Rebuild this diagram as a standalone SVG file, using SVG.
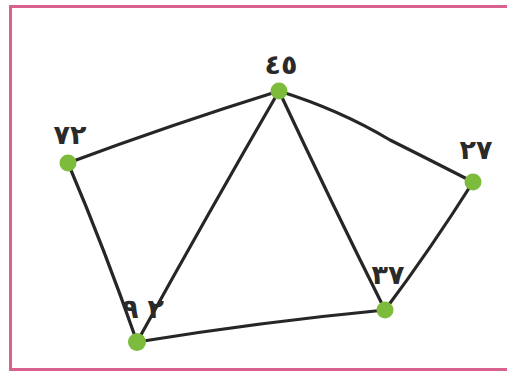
<svg xmlns="http://www.w3.org/2000/svg" width="507" height="375" viewBox="0 0 507 375">
<style>
.edge{fill:none;stroke:#262626;stroke-width:3.2;stroke-linecap:round}
.node{fill:#7dbb3c}
.lbl{font-family:"DejaVu Sans",sans-serif;font-size:27px;font-weight:bold;fill:#2a2a2a;text-anchor:middle}
</style>
<rect x="0" y="0" width="507" height="375" fill="#ffffff"/>
<rect x="10.5" y="6.5" width="520" height="363" fill="none" stroke="#d9628e" stroke-width="3"/>
<g id="connectors">
<path class="edge" d="M68,163 Q170,125 279,91"/>
<path class="edge" d="M279,91 Q340,110 390,140 Q430,160 473,182"/>
<path class="edge" d="M68,163 Q105,250 137,342"/>
<path class="edge" d="M137,342 Q210,210 279,91"/>
<path class="edge" d="M279,91 Q330,200 385,310"/>
<path class="edge" d="M473,182 Q430,250 385,310"/>
<path class="edge" d="M137,342 Q260,322 385,310"/>
</g>
<g id="n45"><circle class="node" cx="279" cy="91" r="8.5"/><text class="lbl" x="281" y="74">٤٥</text></g>
<g id="n72"><circle class="node" cx="68" cy="163" r="8.5"/><text class="lbl" x="70" y="144">٧٢</text></g>
<g id="n27"><circle class="node" cx="473" cy="182" r="8.5"/><text class="lbl" x="476" y="159">٢٧</text></g>
<g id="n92"><circle class="node" cx="137" cy="342" r="9"/><text class="lbl" x="143" y="318">٩<tspan dx="9">٢</tspan></text></g>
<g id="n37"><circle class="node" cx="385" cy="310" r="8.5"/><text class="lbl" x="388" y="284">٣٧</text></g>
</svg>
